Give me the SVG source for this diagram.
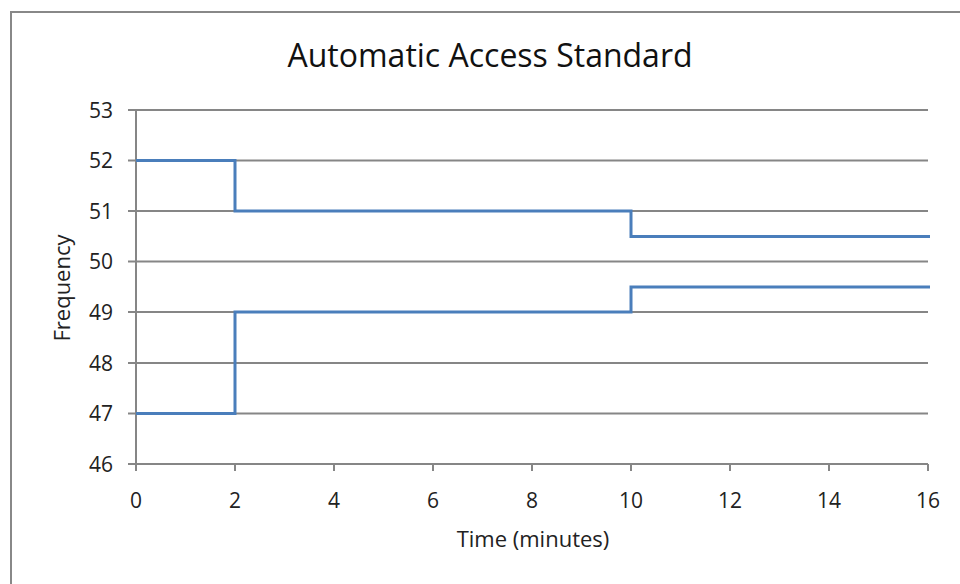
<svg xmlns="http://www.w3.org/2000/svg" width="960" height="584" viewBox="0 0 960 584">
<style>
.grid{stroke:#868686;stroke-width:2;fill:none}
.series{stroke:#4a7ebb;stroke-width:3;fill:none;stroke-linejoin:miter}
.tick{font-family:"Open Sans","Liberation Sans",sans-serif;font-size:21px;fill:#222}
.title{font-family:"Open Sans","Liberation Sans",sans-serif;font-size:32px;fill:#111}
.axt{font-family:"Open Sans","Liberation Sans",sans-serif;font-size:22px;fill:#222}
</style>
<rect x="0" y="0" width="960" height="584" fill="#fff"/>
<rect x="11" y="12" width="960" height="600" fill="none" stroke="#888" stroke-width="2"/>
<g id="title"><text class="title" x="490" y="67" text-anchor="middle">Automatic Access  Standard</text></g>
<g id="grid">
<path class="grid" d="M128 110H928M128 160.5H928M128 211H928M128 261.5H928M128 312H928M128 363H928M128 413.5H928M128 464H928"/>
<path class="grid" d="M136 110V471M235 464V471M334 464V471M433 464V471M532 464V471M631 464V471M730 464V471M829 464V471M928 464V471"/>
</g>
<g id="yticks" class="tick" text-anchor="end">
<text x="113" y="118">53</text>
<text x="113" y="168">52</text>
<text x="113" y="219">51</text>
<text x="113" y="269">50</text>
<text x="113" y="320">49</text>
<text x="113" y="371">48</text>
<text x="113" y="421">47</text>
<text x="113" y="472">46</text>
</g>
<g id="xticks" class="tick" text-anchor="middle">
<text x="136" y="508">0</text>
<text x="235" y="508">2</text>
<text x="334" y="508">4</text>
<text x="433" y="508">6</text>
<text x="532" y="508">8</text>
<text x="631" y="508">10</text>
<text x="730" y="508">12</text>
<text x="829" y="508">14</text>
<text x="928" y="508">16</text>
</g>
<g id="axis-titles">
<text class="axt" x="533" y="547" text-anchor="middle">Time (minutes)</text>
<text class="axt" x="0" y="0" text-anchor="middle" transform="translate(70 288) rotate(-90)">Frequency</text>
</g>
<g id="series">
<path class="series" d="M136 160.5H235V211H631V236.5H930"/>
<path class="series" d="M136 413.5H235V312H631V287H930"/>
</g>
</svg>
